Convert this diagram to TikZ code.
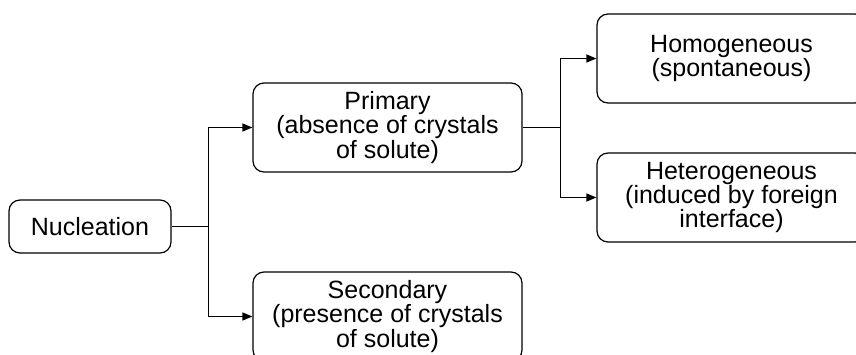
\documentclass[tikz,border=0pt]{standalone}
\usepackage{fontspec}
\setmainfont{Liberation Sans}
\usetikzlibrary{arrows.meta}
\tikzset{
  box/.style={draw, line width=1.2pt, rounded corners=11pt, align=center,
    font=\fontsize{25}{23}\selectfont, inner sep=0pt},
  small/.style={box, minimum width=162pt, minimum height=53pt},
  big/.style={box, minimum width=269pt, minimum height=89pt},
  link/.style={line width=1.2pt},
  arr/.style={link, -{Triangle[length=10pt,width=8pt]}}
}
\begin{document}
\begin{tikzpicture}[x=1pt,y=-1pt]
  \useasboundingbox (0,0) rectangle (856,354);
  \clip (0,0) rectangle (856,354);
  \fill[white] (0,0) rectangle (856,354);

  \node[small] (nuc) at (90,226.5) {Nucleation};
  \node[big] (prim) at (387.5,127.5) {Primary\\(absence of crystals\\of solute)};
  \node[big] (sec) at (387.5,316.5) {Secondary\\(presence of crystals\\of solute)};
  \node[big] (homo) at (731.5,58.5) {Homogeneous\\(spontaneous)};
  \node[big] (hetero) at (731.5,197.5) {Heterogeneous\\(induced by foreign\\interface)};

  % first branching: nucleation into primary and secondary
  \draw[link] (nuc.east) -- ++(37,0) coordinate (j1);
  \draw[arr] (j1) |- (prim.west);
  \draw[arr] (j1) |- (sec.west);

  % second branching: primary into homogeneous and heterogeneous
  \draw[link] (prim.east) -- ++(38,0) coordinate (j2);
  \draw[arr] (j2) |- (homo.west);
  \draw[arr] (j2) |- (hetero.west);
\end{tikzpicture}
\end{document}
